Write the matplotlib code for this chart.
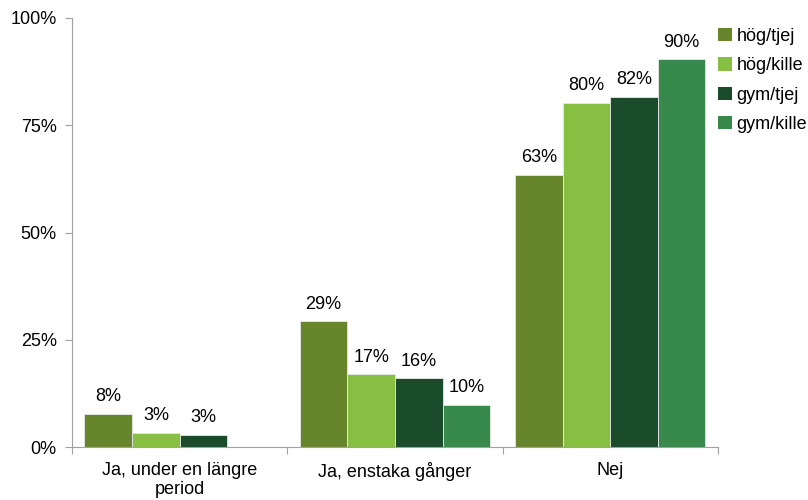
import matplotlib.pyplot as plt
import numpy as np
from matplotlib.patches import Patch

plt.rcParams['font.family'] = ['Liberation Sans', 'DejaVu Sans']

categories = ['Ja, under en längre\nperiod', 'Ja, enstaka gånger', 'Nej']
series = ['hög/tjej', 'hög/kille', 'gym/tjej', 'gym/kille']
values = {
    'hög/tjej': [7.7, 29.3, 63.4],
    'hög/kille': [3.3, 16.9, 80.2],
    'gym/tjej': [2.8, 16.0, 81.7],
    'gym/kille': [np.nan, 9.9, 90.4],
}
labels = {
    'hög/tjej': ['8%', '29%', '63%'],
    'hög/kille': ['3%', '17%', '80%'],
    'gym/tjej': ['3%', '16%', '82%'],
    'gym/kille': ['', '10%', '90%'],
}
colors = ['#67862b', '#86bf41', '#1a4b2b', '#378a4b']

fig = plt.figure(figsize=(8.08, 5.0), dpi=100)
ax = fig.add_axes([0.0891, 0.106, 0.7995, 0.858])

x = np.arange(len(categories))
w = 0.221
for i, s in enumerate(series):
    pos = x + (i - 1.5) * w
    vals = np.array(values[s], dtype=float)
    ax.bar(pos, np.nan_to_num(vals), width=w, color=colors[i],
           edgecolor='#e8e8e8', linewidth=0.6)
    for p, v, t in zip(pos, vals, labels[s]):
        if np.isnan(v):
            continue
        ax.text(p, v + 2.0, t, ha='center', va='bottom', fontsize=13, color='#000000')

ax.set_xlim(-0.5, 2.5)
ax.set_ylim(0, 100)
ax.set_yticks([0, 25, 50, 75, 100])
ax.set_yticklabels(['0%', '25%', '50%', '75%', '100%'], fontsize=13)

ax.set_xticks([-0.5, 0.5, 1.5, 2.5])
ax.set_xticklabels([])
ax.set_xticks(x, minor=True)
ax.set_xticklabels(categories, minor=True, fontsize=13, linespacing=1.1)
ax.tick_params(axis='x', which='minor', length=0, pad=11)
ax.tick_params(axis='x', which='major', length=5, color='#a0a0a0', direction='out')
ax.tick_params(axis='y', length=5, color='#a0a0a0', direction='out', pad=6)

for side in ['top', 'right']:
    ax.spines[side].set_visible(False)
for side in ['left', 'bottom']:
    ax.spines[side].set_color('#a0a0a0')

handles = [Patch(facecolor=c, edgecolor='none') for c in colors]
fig.legend(handles, series, loc='upper left', bbox_to_anchor=(0.889, 0.944),
           frameon=False, fontsize=13, handlelength=0.75, handleheight=0.75,
           handletextpad=0.25, labelspacing=0.68, borderpad=0, borderaxespad=0)

fig.savefig('out.png', dpi=100)
